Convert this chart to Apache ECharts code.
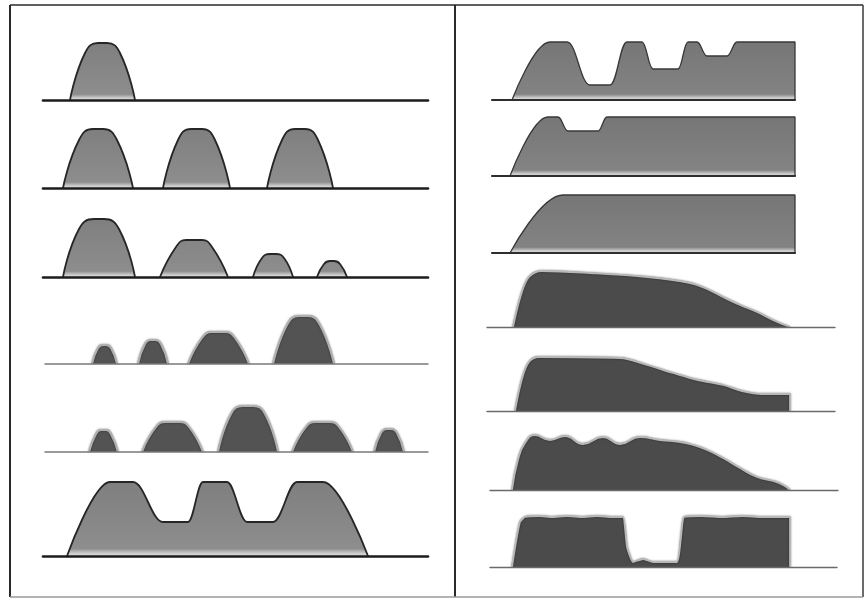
<!DOCTYPE html>
<html><head><meta charset="utf-8">
<script src="https://cdn.jsdelivr.net/npm/echarts@6/dist/echarts.min.js"></script>
<style>html,body{margin:0;padding:0;background:#fff}#c{width:866px;height:600px}</style>
</head><body><div id="c"></div>
<script>
const B = '-';
// Left panel rows: [position, height]; '-' separates bumps
const left1 = [[27,0],[42,47],[55,57],[64,57],[77,47],[92,0]];
const left2 = [[20,0],[36,48],[50,59],[60,59],[74,48],[90,0],[105,B],[120,0],[135,48],[148,59],[159,59],[172,48],[187,0],[205,B],[224,0],[239,48],[252,59],[262,59],[275,48],[290,0]];
const left3 = [[20,0],[36,48],[51,58],[61,58],[76,48],[92,0],[104,B],[117,0],[133,30],[143,37],[159,37],[169,30],[185,0],[197,B],[210,0],[219,19],[227,23],[233,23],[241,19],[250,0],[262,B],[274,0],[281,13],[287,16],[291,16],[297,13],[304,0]];
const left4 = [[49,0],[55,16],[60,19],[63,19],[68,16],[74,0],[85,B],[95,0],[102,20],[108,24],[112,24],[118,20],[125,0],[135,B],[145,0],[159,26],[169,32],[182,32],[192,26],[206,0],[218,B],[230,0],[244,39],[256,48],[265,48],[277,39],[291,0]];
const left5 = [[46,0],[53,18],[58,22],[63,22],[68,18],[75,0],[87,B],[99,0],[113,25],[123,30],[136,30],[146,25],[160,0],[167,B],[175,0],[188,38],[200,46],[210,46],[222,38],[235,0],[242,B],[249,0],[263,25],[273,30],[286,30],[296,25],[310,0],[320,B],[331,0],[338,19],[344,23],[348,23],[354,19],[361,0]];
const left6 = [[24,0],[67,74],[90,74],[120,34],[145,34],[160,74],[184,74],[204,34],[230,34],[254,74],[280,74],[325,0]];
// Right panel rows
const right1 = [[25,0],[63,58],[80,58],[103,15],[123,15],[140,58],[155,58],[166,31],[191,31],[201,58],[210,58],[220,44],[240,44],[250,58],[308,58],[308,0]];
const right2 = [[23,0],[61,59],[71,59],[81,45],[111,45],[120,59],[308,59],[308,0]];
const right3 = [[23,0],[76,58],[308,58],[308,0]];
const right4 = [[26,0],[34,32],[42,50],[55,56],[103,54],[160,50],[203,44],[220,38],[236,30],[253,22],[270,15],[288,6],[303,0]];
const right5 = [[28,0],[35,32],[42,49],[52,54],[133,53],[160,46],[186,38],[211,31],[236,26],[255,20],[275,17],[303,17],[303,0]];
const right6 = [[25,0],[31,30],[38,47],[48,55],[63,50],[78,54],[96,46],[116,53],[133,46],[153,53],[173,50],[193,48],[206,45],[220,40],[236,32],[253,22],[270,13],[286,9],[296,5],[303,0]];
const right7 = [[25,0],[29,25],[33,45],[38,50],[52,51],[65,50],[80,51],[95,50],[110,51],[125,50],[136,50],[140,20],[146,5],[156,8],[166,5],[190,5],[194,30],[197,50],[215,51],[235,50],[255,51],[275,50],[303,50],[303,0]];
// Axis ranges of each row's baseline
const leftRanges = [[0,385],[0,385],[0,385],[2,385],[2,385],[0,385]];
const rightRanges = [[5,308],[5,308],[5,308],[0,348],[0,348],[3,351],[3,350]];

// ---- layout / style ----
const leftData = [left1,left2,left3,left4,left5,left6];
const rightData = [right1,right2,right3,right4,right5,right6,right7];
const leftBase = [100,188,277,364,452,556];
const rightBase = [100,176,253,327,411,490,567];
const leftKind = ['light','light','light','dark','dark','lightM'];
const rightKind = ['lightR','lightR','lightR','darkR','darkR','darkR6','darkR7'];
const H = 80;

function grad(c1, c2) {
  return new echarts.graphic.LinearGradient(0,0,0,1,[
    {offset:0,color:c1},{offset:0.9,color:c2},{offset:0.955,color:'#c4c4c4'},{offset:1,color:'#e2e2e2'}]);
}
const styles = {
  light: {fill:()=>grad('#7f7f7f','#8d8d8d'), line:'#262626', lw:1.8, base:'#1c1c1c', bw:2.6, smooth:0.5, mono:null},
  lightM: {fill:()=>grad('#7f7f7f','#8d8d8d'), line:'#262626', lw:1.8, base:'#1c1c1c', bw:2.6, smooth:0.38, mono:'x'},
  dark: {fill:()=>'#535353', line:'#b0b0b0', lw:2, base:'#7a7a7a', bw:1.5, smooth:0.5, mono:null, shadow:true},
  lightR: {fill:()=>grad('#767676','#838383'), line:'#383838', lw:1.3, base:'#2e2e2e', bw:2.2, smooth:0.42, mono:'x'},
  darkR: {fill:()=>'#4b4b4b', line:'#b8b8b8', lw:1.8, base:'#6a6a6a', bw:1.3, smooth:0.35, mono:null, shadow:true},
  darkR6: {fill:()=>'#4b4b4b', line:'#b8b8b8', lw:1.8, base:'#6a6a6a', bw:1.3, smooth:0.5, mono:null, shadow:true},
  darkR7: {fill:()=>'#4b4b4b', line:'#b8b8b8', lw:1.8, base:'#6a6a6a', bw:1.3, smooth:0.15, mono:null, shadow:true}
};

const grid=[], xAxis=[], yAxis=[], series=[];
function addRow(data, range, origin, base, kind) {
  const i = grid.length, s = styles[kind];
  grid.push({left: origin + range[0], right: 866 - (origin + range[1]), top: base - H, height: H});
  xAxis.push({type:'value', gridIndex:i, min:range[0], max:range[1], z:5,
    axisLine:{show:true, onZero:false, lineStyle:{color:s.base, width:s.bw}},
    axisTick:{show:false}, axisLabel:{show:false}, splitLine:{show:false}});
  yAxis.push({type:'value', gridIndex:i, min:0, max:H, show:false, splitLine:{show:false}});
  const ls = {color:s.line, width:s.lw};
  if (s.shadow) { ls.shadowColor='rgba(0,0,0,0.55)'; ls.shadowBlur=2; }
  const ser = {type:'line', xAxisIndex:i, yAxisIndex:i, data:data, showSymbol:false, symbol:'none',
    smooth:s.smooth, connectNulls:false, silent:true, animation:false,
    lineStyle:ls, areaStyle:{color:s.fill(), opacity:1}};
  if (s.mono) ser.smoothMonotone = s.mono;
  series.push(ser);
}
leftData.forEach((d,k)=>addRow(d, leftRanges[k], 43, leftBase[k], leftKind[k]));
rightData.forEach((d,k)=>addRow(d, rightRanges[k], 487, rightBase[k], rightKind[k]));

const chart = echarts.init(document.getElementById('c'), null, {renderer:'canvas'});
chart.setOption({
  animation:false, backgroundColor:'#fff',
  grid, xAxis, yAxis, series,
  graphic:[
    {type:'line', shape:{x1:10,y1:5,x2:863,y2:5}, style:{stroke:'#2a2a2a', lineWidth:1.5}},
    {type:'line', shape:{x1:10,y1:5,x2:10,y2:597}, style:{stroke:'#2a2a2a', lineWidth:2}},
    {type:'line', shape:{x1:455,y1:5,x2:455,y2:597}, style:{stroke:'#2a2a2a', lineWidth:2}},
    {type:'line', shape:{x1:863,y1:5,x2:863,y2:597}, style:{stroke:'#3a3a3a', lineWidth:1.5}},
    {type:'line', shape:{x1:10,y1:597,x2:863,y2:597}, style:{stroke:'#9a9a9a', lineWidth:1.5}}
  ]
});
</script></body></html>
